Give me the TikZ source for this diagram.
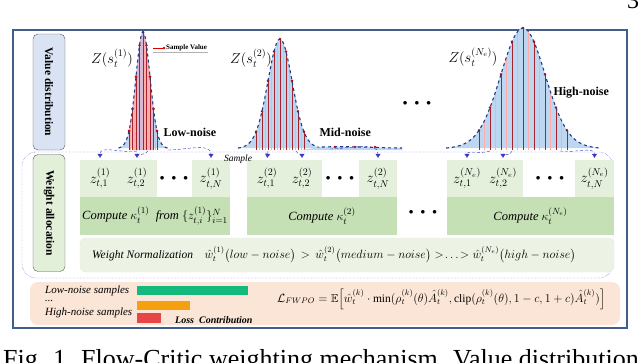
\documentclass[tikz,border=0pt]{standalone}
\usepackage{amsmath,amssymb}
\usepackage{fontspec}
\setmainfont{Liberation Serif}
\usetikzlibrary{positioning,arrows.meta,calc}

\definecolor{frameC}{RGB}{68,94,140}
\definecolor{vdLab}{RGB}{218,227,243}
\definecolor{waLab}{RGB}{226,239,217}
\definecolor{zC}{RGB}{228,240,220}
\definecolor{compC}{RGB}{197,224,180}
\definecolor{normC}{RGB}{236,243,229}
\definecolor{lossC}{RGB}{251,229,214}
\definecolor{curveC}{RGB}{30,60,140}
\definecolor{fillC}{RGB}{189,215,240}
\definecolor{pinkC}{RGB}{218,185,212}
\definecolor{smpC}{RGB}{165,35,45}
\definecolor{barG}{RGB}{20,185,125}
\definecolor{barO}{RGB}{245,160,15}
\definecolor{barR}{RGB}{232,70,70}

\begin{document}
\begin{tikzpicture}[x=1pt, y=-1pt,
        lab/.style={draw=gray!70!black, rounded corners=5pt, minimum width=32pt, inner sep=0pt, font=\bfseries\fontsize{11}{12}\selectfont},
        zbox/.style={fill=zC, minimum height=37pt, inner sep=0pt},
        cbox/.style={fill=compC, minimum height=38pt, inner sep=0pt},
        zt/.style={minimum height=37pt, inner sep=1pt, font=\fontsize{14}{14}\selectfont},
        ct/.style={font=\fontsize{12.5}{13}\selectfont},
        dd/.style={font=\fontsize{9}{9}\selectfont},
        curve/.style={dashed, curveC, line width=1.1pt},
        samp/.style={densely dashed, blue!55!gray, -{Triangle[length=4pt,width=5pt]}, shorten >=2pt},
        bar/.style={minimum height=9pt, inner sep=0pt, anchor=west},
        txt/.style={anchor=west, inner sep=0pt, font=\itshape\fontsize{11}{11}\selectfont}
      ]
      \useasboundingbox (0,0) rectangle (640,362);

      % Frame
      \draw[frameC, line width=1.1pt] (13,30) rectangle (627,328);
      \node[anchor=base, font=\fontsize{24}{24}\selectfont] (pg) at (633,8) {3};
      \node[anchor=base west, inner sep=0pt, font=\fontsize{26}{26}\selectfont] (cap) at (3,367)
        {Fig. 1. Flow-Critic weighting mechanism. Value distribution};

      % Value distribution
      \node[lab, fill=vdLab, minimum height=116pt] (vdl) at (49,92) {};
      \node[rotate=-90, font=\bfseries\fontsize{11.5}{12}\selectfont] (vdt) at (vdl) {Value distribution};

      \foreach \cx/\sg/\ht/\k in {143/7/112/1, 280/12/105/2, 523/22/116/3} {
        \fill[fillC] plot[domain=\cx-3.5*\sg:\cx+3.5*\sg, samples=80]
          (\x,{150-\ht*exp(-0.5*((\x-\cx)/\sg)^2)-6*exp(-0.5*((\x-\cx)/(2.2*\sg))^2)}) -- cycle;
        \ifnum\k=1
          \fill[pinkC] plot[domain=132:154, samples=40]
            (\x,{150-\ht*exp(-0.5*((\x-\cx)/\sg)^2)-6*exp(-0.5*((\x-\cx)/(2.2*\sg))^2)}) -- (154,150) -- (132,150) -- cycle;
        \fi
        \foreach \t in {-1.75,-1.25,...,1.8} {
          \pgfmathsetmacro\xx{\cx+\t*\sg}
          \pgfmathsetmacro\yy{150-\ht*exp(-0.5*(\t)*(\t))-6*exp(-0.5*(\t/2.2)*(\t/2.2))}
          \draw[pink!90!red, line width=0.6pt] (\xx,150) -- (\xx,\yy);
        }
        \foreach \t in {-2,-1.5,...,2.1} {
          \pgfmathsetmacro\xx{\cx+\t*\sg}
          \pgfmathsetmacro\yy{150-\ht*exp(-0.5*(\t)*(\t))-6*exp(-0.5*(\t/2.2)*(\t/2.2))}
          \draw[smpC, line width=0.8pt] (\xx,150) -- (\xx,\yy);
          \fill[red!85!black] (\xx,\yy) circle (1.4);
        }
        \draw[curve] plot[domain=\cx-3.5*\sg:\cx+3.5*\sg, samples=80]
          (\x,{150-\ht*exp(-0.5*((\x-\cx)/\sg)^2)-6*exp(-0.5*((\x-\cx)/(2.2*\sg))^2)});
      }
      % mid-noise tail
      \fill[fillC] (300,150) -- (322,147) .. controls (350,146) and (380,148) .. (402,148) -- (402,150) -- cycle;
      \draw[curve] (322,147) .. controls (350,146) and (380,148) .. (402,148);
      \foreach \xx in {335,355,375} \fill[red!85!black] (\xx,147) circle (1.3);

      \node[font=\fontsize{14}{14}\selectfont] (zs1) at (112,58) {$Z(s_t^{(1)})$};
      \node[font=\fontsize{14}{14}\selectfont] (zs2) at (251,58) {$Z(s_t^{(2)})$};
      \node[font=\fontsize{14}{14}\selectfont] (zs3) at (473,57) {$Z(s_t^{(N_e)})$};
      \node[anchor=west, font=\bfseries\fontsize{12}{12}\selectfont] (ln) at (160,132) {Low-noise};
      \node[anchor=west, font=\bfseries\fontsize{12}{12}\selectfont] (mn) at (316,132) {Mid-noise};
      \node[anchor=west, font=\bfseries\fontsize{12}{12}\selectfont] (hn) at (550,93) {High-noise};
      \node[dd] (vdots) at (417,103) {$\bullet\;\;\bullet\;\;\bullet$};

      % Sample value legend
      \coordinate (lg0) at (153,48);
      \coordinate (lg1) at (164,48);
      \draw[red!85!black, line width=1pt] (lg0) -- (lg1);
      \fill[red!85!black] (lg1) circle (1.3);
      \node[anchor=west, inner sep=1pt, font=\bfseries\fontsize{7}{7}\selectfont] (lgt) at (165,48) {Sample Value};
      \draw[gray!60] (lg0 |- lgt.south) -- (lgt.south east);

      % Weight allocation
      \draw[densely dotted, blue!50!gray, rounded corners=14pt] (33,152) -- (22,152) -- (22,278) -- (613,278) -- (613,152) -- (33,152);
      \node[lab, fill=waLab, minimum height=117pt] (wal) at (49,213) {};
      \node[rotate=-90, font=\bfseries\fontsize{11.5}{12}\selectfont] (wat) at (wal) {Weight allocation};

      % Row of samples
      \node[zbox, minimum width=77pt] (g1a) at (118.5,178.5) {};
      \node[zbox, minimum width=38pt] (g1b) at (211,178.5) {};
      \node[zbox, minimum width=75pt] (g2a) at (284.5,178.5) {};
      \node[zbox, minimum width=38pt] (g2b) at (378,178.5) {};
      \node[zbox, minimum width=76pt] (g3a) at (485,178.5) {};
      \node[zbox, minimum width=39pt] (g3b) at (594.5,178.5) {};
      \node[zt] (z11) at (100,178.5) {$z_{t,1}^{(1)}$};
      \node[zt] (z12) at (137,178.5) {$z_{t,2}^{(1)}$};
      \node[zt, dd] (d1)  at (174,178.5) {$\bullet\;\;\bullet\;\;\bullet$};
      \node[zt] (z1N) at (211,178.5) {$z_{t,N}^{(1)}$};
      \node[zt] (z21) at (267,178.5) {$z_{t,1}^{(2)}$};
      \node[zt] (z22) at (302,178.5) {$z_{t,2}^{(2)}$};
      \node[zt, dd] (d2)  at (340,178.5) {$\bullet\;\;\bullet\;\;\bullet$};
      \node[zt] (z2N) at (378,178.5) {$z_{t,N}^{(2)}$};
      \node[zt] (z31) at (467,178.5) {$z_{t,1}^{(N_e)}$};
      \node[zt] (z32) at (503,178.5) {$z_{t,2}^{(N_e)}$};
      \node[zt, dd] (d3)  at (550,178.5) {$\bullet\;\;\bullet\;\;\bullet$};
      \node[zt] (z3N) at (594.5,178.5) {$z_{t,N}^{(N_e)}$};

      % Row of kappa
      \node[cbox, minimum width=150pt] (c1) at (155,216) {};
      \node[cbox, minimum width=150pt] (c2) at (322,216) {};
      \node[cbox, minimum width=167pt] (c3) at (530.5,216) {};
      \node[ct] (k1) at (c1) {\textit{Compute} $\kappa_t^{(1)}$ \ \textit{from} $\{z_{t,i}^{(1)}\}_{i=1}^{N}$};
      \node[ct] (k2) at (c2) {\textit{Compute} $\kappa_t^{(2)}$};
      \node[ct] (k3) at (c3) {\textit{Compute} $\kappa_t^{(N_e)}$};
      \node[dd] (dk) at (423,212) {$\bullet\;\;\bullet\;\;\bullet$};

      % Normalization
      \node[fill=normC, draw=gray!20, rounded corners=6pt, minimum width=534pt, minimum height=34pt, inner sep=0pt] (nb) at (347,255) {};
      \node[anchor=west, inner sep=0pt, font=\fontsize{11.5}{12}\selectfont] (nt) at (92,255)
        {\textit{Weight Normalization}\quad $\hat{w}_t^{(1)}\bigl(low-noise\bigr) \,>\, \hat{w}_t^{(2)}\bigl(medium-noise\bigr) >\!\ldots\!> \hat{w}_t^{(N_e)}\bigl(high-noise\bigr)$};

      % Sampling arrows
      \coordinate (s11) at (137,151);
      \coordinate (s12) at (148,151);
      \coordinate (s1N) at (168,150);
      \coordinate (s21) at (268,151);
      \coordinate (s22) at (296,151);
      \coordinate (s2N) at (330,149);
      \coordinate (s31) at (490,151);
      \coordinate (s32) at (512,151);
      \coordinate (s3N) at (560,151);
      \draw[samp] (s11) to[out=190, in=90] (z11.north);
      \draw[samp] (s12) to[out=240, in=90] (z12.north);
      \draw[samp] (s1N) to[out=0, in=90] (z1N.north);
      \draw[samp] (s21) -- (z21.north);
      \draw[samp] (s22) to[out=-60, in=90] (z22.north);
      \draw[samp] (s2N) to[out=0, in=90] (z2N.north);
      \draw[samp] (s31) to[out=200, in=90] (z31.north);
      \draw[samp] (s32) to[out=260, in=90] (z32.north);
      \draw[samp] (s3N) to[out=-10, in=90] (z3N.north);
      \node[font=\itshape\fontsize{9.5}{9.5}\selectfont] (sm) at (238,159) {Sample};

      % Loss
      \node[fill=lossC, rounded corners=8pt, minimum width=590pt, minimum height=43pt, inner sep=0pt] (lb) at (325,303.5) {};
      \node[txt] (lo) at (45,291) {Low-noise samples};
      \node[txt] (mi) at (45,301) {...};
      \node[txt] (hi) at (45,313) {High-noise samples};
      \node[bar, fill=barG, minimum width=111pt] (bg) at (137,290.5) {};
      \node[bar, fill=barO, minimum width=53pt] (bo) at (137,305) {};
      \node[bar, fill=barR, minimum width=24pt, minimum height=10pt] (br) at (137,318) {};
      \node[anchor=west, inner sep=0pt, font=\bfseries\itshape\fontsize{10}{10}\selectfont] (lc) at (175,320) {Loss\ \ Contribution};
      \node[anchor=west, inner sep=0pt, font=\fontsize{11.5}{12}\selectfont] (fm) at (277,299)
        {$\mathcal{L}_{FWPO}=\mathbb{E}\Bigl[\hat{w}_t^{(k)}\cdot\min(\rho_t^{(k)}(\theta)\hat{A}_t^{(k)},\mathrm{clip}(\rho_t^{(k)}(\theta),1-c,1+c)\hat{A}_t^{(k)})\Bigr]$};

\end{tikzpicture}
\end{document}
